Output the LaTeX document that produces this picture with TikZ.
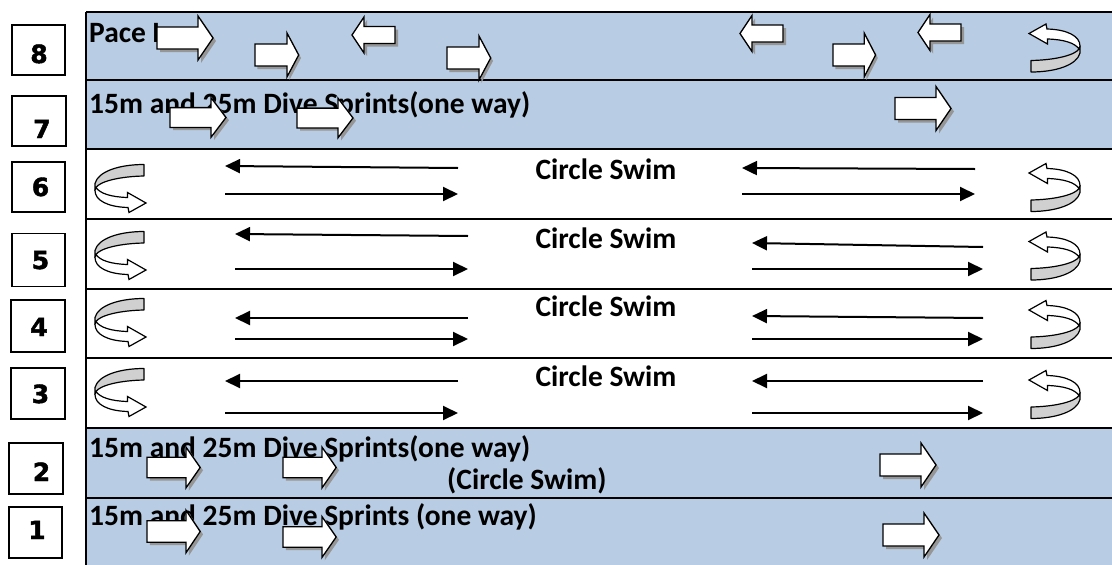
\documentclass[tikz,border=0pt]{standalone}
\usepackage{fontspec}
\setmainfont{Carlito}
\newfontfamily\digitfont[BoldFeatures={FakeBold=1.8}]{DejaVu Sans}
\usetikzlibrary{arrows.meta}
\definecolor{lanebl}{RGB}{184,204,228}
\definecolor{shadowc}{RGB}{150,150,150}
\definecolor{ribbong}{RGB}{208,208,208}
\tikzset{
  blkline/.style={draw=black, line width=1.3pt, fill=white, line join=miter},
  rblk/.pic={
    \fill[shadowc, shift={(3,3)}] (0,-11) -- (41,-11) -- (41,-22) -- (56,0) -- (41,22) -- (41,11) -- (0,11) -- cycle;
    \path[blkline] (0,-11) -- (41,-11) -- (41,-22) -- (56,0) -- (41,22) -- (41,11) -- (0,11) -- cycle;
  },
  lblk/.pic={
    \fill[shadowc, shift={(3,3)}] (0,0) -- (12,-18) -- (12,-8.5) -- (43,-8.5) -- (43,8.5) -- (12,8.5) -- (12,18) -- cycle;
    \path[blkline] (0,0) -- (12,-18) -- (12,-8.5) -- (43,-8.5) -- (43,8.5) -- (12,8.5) -- (12,18) -- cycle;
  },
  uturn/.pic={
    \begin{scope}[shift={(-25,-23.5)}]
      \path[draw=black, line width=1.2pt, fill=ribbong, line join=round]
        (1,35.5) .. controls (26,35) and (45,30) .. (49,24) -- (50,21) -- (50,28)
        .. controls (47,40) and (26,47) .. (1,47) -- cycle;
      \path[draw=black, line width=1.2pt, fill=white, line join=miter]
        (-1,8.5) -- (16,-1) -- (17,4) .. controls (37,4.5) and (50,11) .. (50,21)
        -- (49,24) .. controls (45,18) and (34,14.5) .. (17.5,14) -- (17.5,19) -- cycle;
    \end{scope}
  },
}
\begin{document}
\begin{tikzpicture}[x=1pt,y=-1pt,
  lanetext/.style={font=\fontsize{29.5}{32}\selectfont\bfseries, inner sep=0pt, anchor=base west},
  circtext/.style={font=\fontsize{29.5}{32}\selectfont\bfseries, inner sep=0pt, anchor=base},
  numbox/.style={draw, line width=1.4pt, minimum width=53pt, minimum height=50pt, inner sep=0pt},
  numtext/.style={font=\digitfont\bfseries\fontsize{25}{28}\selectfont, inner sep=0pt, anchor=base},
  swim/.style={line width=2pt, -{Triangle[length=15pt,width=14pt]}},
  thinline/.style={line width=1.3pt},
  thickline/.style={line width=2.6pt},
]
\useasboundingbox (0,0) rectangle (1112,565);
% lane fills
\fill[lanebl] (86,12) rectangle (1112,149);
\fill[lanebl] (86,428) rectangle (1112,565);
% lane lines
\draw[thinline] (86,12) -- (1112,12);
\draw[thinline] (86,80) -- (1112,80);
\draw[thickline] (86,149) -- (1112,149);
\draw[thickline] (86,219) -- (1112,219);
\draw[thickline] (86,289) -- (1112,289);
\draw[thickline] (86,358) -- (1112,358);
\draw[thinline] (86,428) -- (1112,428);
\draw[thinline] (86,498) -- (1112,498);
\draw[line width=2pt] (86,12) -- (86,565);

% lane texts
\node[lanetext] (t8) at (89,42) {Pace Lane};
\node[lanetext] (t7) at (89,113) {15m and 25m Dive Sprints(one way)};
\node[circtext] (t6) at (606,179) {Circle Swim};
\node[circtext] (t5) at (606,248) {Circle Swim};
\node[circtext] (t4) at (606,316) {Circle Swim};
\node[circtext] (t3) at (606,386) {Circle Swim};
\node[lanetext] (t2) at (89,457) {15m and 25m Dive Sprints(one way)};
\node[lanetext] (t2b) at (447,489) {(Circle Swim)};
\node[lanetext] (t1) at (89,525) {15m and 25m Dive Sprints (one way)};

% lane 8 block arrows
\pic at (157,38) {rblk};
\pic[xscale=0.78] at (255,55) {rblk};
\pic at (352,35) {lblk};
\pic[xscale=0.78] at (447,58) {rblk};
\pic at (740,33.5) {lblk};
\pic[xscale=0.76] at (833,55) {rblk};
\pic at (918,32.5) {lblk};
\pic at (1055,48.5) {uturn};
% lane 7
\pic[yscale=0.9] at (170,117.5) {rblk};
\pic[yscale=0.9] at (297,118) {rblk};
\pic at (895,108.5) {rblk};
% lane 2
\pic[xscale=0.95,yscale=0.93] at (147,467.5) {rblk};
\pic[xscale=0.95,yscale=0.93] at (283,467.5) {rblk};
\pic at (880,465) {rblk};
% lane 1
\pic[xscale=0.95,yscale=0.97] at (147,531.5) {rblk};
\pic[xscale=0.95,yscale=0.93] at (283,537) {rblk};
\pic at (883,535) {rblk};

% U-turns
\pic at (1055,188) {uturn};
\pic at (1055,256.5) {uturn};
\pic at (1055,325) {uturn};
\pic at (1055,395) {uturn};
\pic[rotate=180] at (120,188) {uturn};
\pic[rotate=180] at (120,255) {uturn};
\pic[rotate=180] at (120,322) {uturn};
\pic[rotate=180] at (120,392) {uturn};

% swim arrows
\draw[swim] (458,168) coordinate (s6a) -- (225,166) coordinate (s6b);
\draw[swim] (225,194) coordinate (s6c) -- (458,194) coordinate (s6d);
\draw[swim] (975,169) coordinate (s6e) -- (742,168) coordinate (s6f);
\draw[swim] (742,194) coordinate (s6g) -- (975,194) coordinate (s6h);
\draw[swim] (468,236) coordinate (s5a) -- (235,234) coordinate (s5b);
\draw[swim] (235,269) coordinate (s5c) -- (468,269) coordinate (s5d);
\draw[swim] (983,247) coordinate (s5e) -- (752,243) coordinate (s5f);
\draw[swim] (752,269) coordinate (s5g) -- (983,269) coordinate (s5h);
\draw[swim] (468,318) coordinate (s4a) -- (235,318) coordinate (s4b);
\draw[swim] (235,339) coordinate (s4c) -- (468,339) coordinate (s4d);
\draw[swim] (983,318) coordinate (s4e) -- (752,316) coordinate (s4f);
\draw[swim] (752,339) coordinate (s4g) -- (983,339) coordinate (s4h);
\draw[swim] (458,381) coordinate (s3a) -- (225,381) coordinate (s3b);
\draw[swim] (225,413) coordinate (s3c) -- (458,413) coordinate (s3d);
\draw[swim] (983,381) coordinate (s3e) -- (752,381) coordinate (s3f);
\draw[swim] (752,413) coordinate (s3g) -- (983,413) coordinate (s3h);

% lane number boxes
\node[numbox] (b8) at (38.5,50) {};
\node[numbox, minimum width=54pt] (b7) at (39,121) {};
\node[numbox] (b6) at (38.5,187) {};
\node[numbox, minimum height=53pt] (b5) at (38.5,260) {};
\node[numbox, minimum width=54pt, minimum height=52pt] (b4) at (38,326) {};
\node[numbox, minimum width=54pt, minimum height=51pt] (b3) at (38,393.5) {};
\node[numbox, minimum width=54pt, minimum height=51pt] (b2) at (36,468.5) {};
\node[numbox, minimum height=51pt] (b1) at (35.5,532.5) {};
\node[numtext] (d8) at (39,63) {8};
\node[numtext] (d7) at (42,138) {7};
\node[numtext] (d6) at (40.5,196) {6};
\node[numtext] (d5) at (40.5,269) {5};
\node[numtext] (d4) at (39,336) {4};
\node[numtext] (d3) at (40.5,403) {3};
\node[numtext] (d2) at (41.5,481) {2};
\node[numtext] (d1) at (37,539) {1};
\end{tikzpicture}
\end{document}
